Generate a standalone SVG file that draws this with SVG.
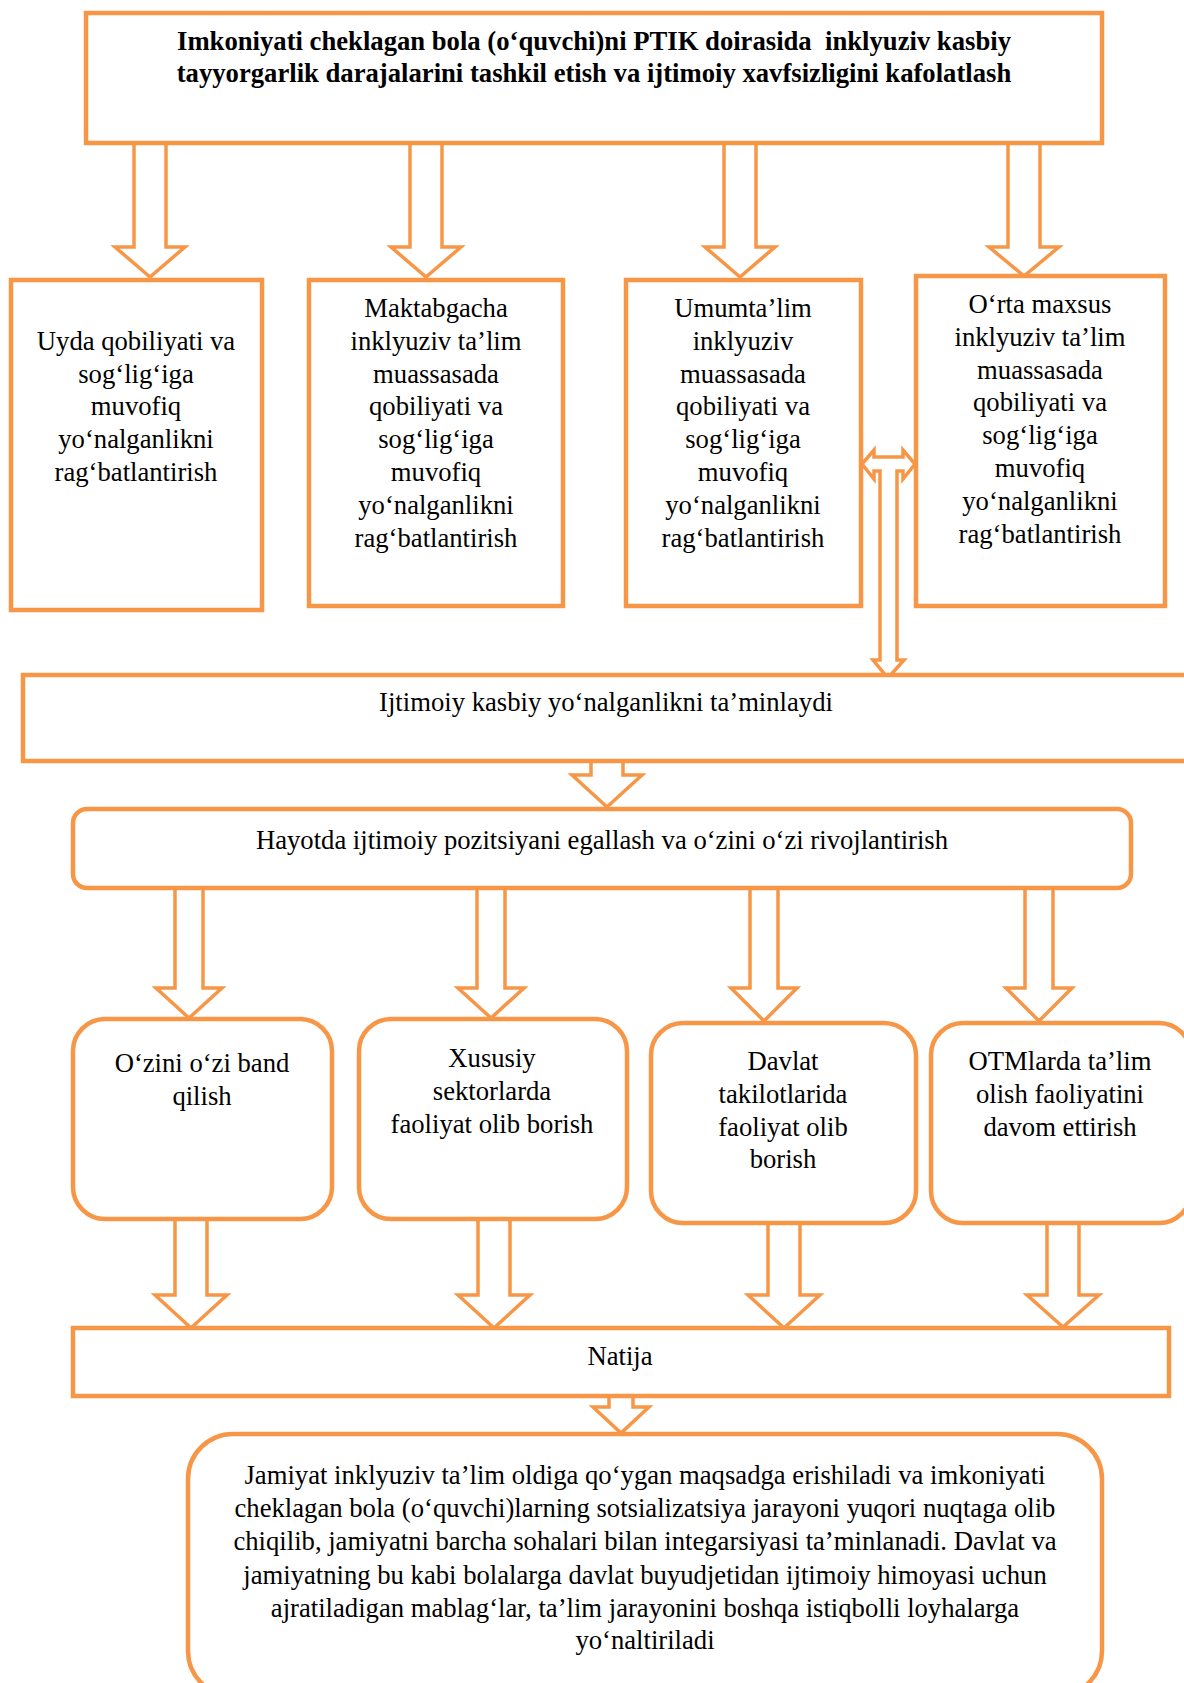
<svg xmlns="http://www.w3.org/2000/svg" width="1184" height="1683" viewBox="0 0 1184 1683">
<style>
.box{fill:#fff;stroke:#F79646;stroke-width:4.5}
.arr{fill:#fff;stroke:#F79646;stroke-width:3.5;stroke-linejoin:miter}
text{font-family:"Liberation Serif","Times New Roman",serif;font-size:26.67px;fill:#000;text-anchor:middle}
.b{font-weight:bold;font-size:26.67px}
</style>
<rect width="1184" height="1683" fill="#fff"/>
<g id="connectors">
<polygon class="arr" points="134,143 166,143 166,247 185,247 150,277 115,247 134,247"/>
<polygon class="arr" points="410,143 442,143 442,247 461,247 426,277 391,247 410,247"/>
<polygon class="arr" points="724,143 756,143 756,247 775,247 740,277 705,247 724,247"/>
<polygon class="arr" points="1008,143 1040,143 1040,247 1059,247 1024,276 989,247 1008,247"/>
<polygon class="arr" points="862,464 874,450 874,457 903,457 903,450 915,464 903,479 903,471 897,471 897,660 904,660 888,678 873,660 880,660 880,471 874,471 874,479"/>
<polygon class="arr" points="591,760 623,760 623,775 642,775 607,807 572,775 591,775"/>
<polygon class="arr" points="175,888 203,888 203,988 222,988 189,1018 156,988 175,988"/>
<polygon class="arr" points="477,888 505,888 505,988 524,988 491,1018 458,988 477,988"/>
<polygon class="arr" points="750,888 778,888 778,988 797,988 764,1021 731,988 750,988"/>
<polygon class="arr" points="1025,888 1053,888 1053,988 1072,988 1039,1021 1006,988 1025,988"/>
<polygon class="arr" points="175,1219 207,1219 207,1295 227,1295 191,1328 155,1295 175,1295"/>
<polygon class="arr" points="478,1219 510,1219 510,1295 530,1295 494,1328 458,1295 478,1295"/>
<polygon class="arr" points="768,1223 800,1223 800,1295 820,1295 784,1328 748,1295 768,1295"/>
<polygon class="arr" points="1047,1218 1079,1218 1079,1295 1099,1295 1063,1327 1027,1295 1047,1295"/>
<polygon class="arr" points="609,1396 633,1396 633,1407 649,1407 621,1433 593,1407 609,1407"/>
</g>
<g id="title">
<rect class="box" x="86" y="13" width="1016" height="130"/>
<text class="b" x="594" y="50" xml:space="preserve">Imkoniyati cheklagan bola (o‘quvchi)ni PTIK doirasida  inklyuziv kasbiy</text>
<text class="b" x="594" y="82">tayyorgarlik darajalarini tashkil etish va ijtimoiy xavfsizligini kafolatlash</text>
</g>
<g id="n1">
<rect class="box" x="11" y="280" width="251" height="330"/>
<text x="136" y="350">Uyda qobiliyati va</text>
<text x="136" y="383">sog‘lig‘iga</text>
<text x="136" y="415">muvofiq</text>
<text x="136" y="448">yo‘nalganlikni</text>
<text x="136" y="481">rag‘batlantirish</text>
</g>
<g id="n2">
<rect class="box" x="309" y="280" width="254" height="326"/>
<text x="436" y="317">Maktabgacha</text>
<text x="436" y="350">inklyuziv ta’lim</text>
<text x="436" y="383">muassasada</text>
<text x="436" y="415">qobiliyati va</text>
<text x="436" y="448">sog‘lig‘iga</text>
<text x="436" y="481">muvofiq</text>
<text x="436" y="514">yo‘nalganlikni</text>
<text x="436" y="547">rag‘batlantirish</text>
</g>
<g id="n3">
<rect class="box" x="626" y="280" width="235" height="326"/>
<text x="743" y="317">Umumta’lim</text>
<text x="743" y="350">inklyuziv</text>
<text x="743" y="383">muassasada</text>
<text x="743" y="415">qobiliyati va</text>
<text x="743" y="448">sog‘lig‘iga</text>
<text x="743" y="481">muvofiq</text>
<text x="743" y="514">yo‘nalganlikni</text>
<text x="743" y="547">rag‘batlantirish</text>
</g>
<g id="n4">
<rect class="box" x="916" y="276" width="249" height="330"/>
<text x="1040" y="313">O‘rta maxsus</text>
<text x="1040" y="346">inklyuziv ta’lim</text>
<text x="1040" y="379">muassasada</text>
<text x="1040" y="411">qobiliyati va</text>
<text x="1040" y="444">sog‘lig‘iga</text>
<text x="1040" y="477">muvofiq</text>
<text x="1040" y="510">yo‘nalganlikni</text>
<text x="1040" y="543">rag‘batlantirish</text>
</g>
<g id="n5">
<rect class="box" x="23" y="675" width="1180" height="86"/>
<text x="606" y="711">Ijtimoiy kasbiy yo‘nalganlikni ta’minlaydi</text>
</g>
<g id="n6">
<rect class="box" x="73" y="809" width="1058" height="79" rx="14"/>
<text x="602" y="849">Hayotda ijtimoiy pozitsiyani egallash va o‘zini o‘zi rivojlantirish</text>
</g>
<g id="n7">
<rect class="box" x="73" y="1019" width="259" height="200" rx="32"/>
<text x="202" y="1072">O‘zini o‘zi band</text>
<text x="202" y="1105">qilish</text>
</g>
<g id="n8">
<rect class="box" x="359" y="1019" width="268" height="200" rx="32"/>
<text x="492" y="1067">Xususiy</text>
<text x="492" y="1100">sektorlarda</text>
<text x="492" y="1133">faoliyat olib borish</text>
</g>
<g id="n9">
<rect class="box" x="651" y="1023" width="265" height="200" rx="32"/>
<text x="783" y="1070">Davlat</text>
<text x="783" y="1103">takilotlarida</text>
<text x="783" y="1136">faoliyat olib</text>
<text x="783" y="1168">borish</text>
</g>
<g id="n10">
<rect class="box" x="931" y="1023" width="260" height="200" rx="32"/>
<text x="1060" y="1070">OTMlarda ta’lim</text>
<text x="1060" y="1103">olish faoliyatini</text>
<text x="1060" y="1136">davom ettirish</text>
</g>
<g id="n11">
<rect class="box" x="73" y="1328" width="1096" height="68"/>
<text x="620" y="1365">Natija</text>
</g>
<g id="n12">
<rect class="box" x="188" y="1434" width="914" height="262" rx="45"/>
<text x="645" y="1484">Jamiyat inklyuziv ta’lim oldiga qo‘ygan maqsadga erishiladi va imkoniyati</text>
<text x="645" y="1517">cheklagan bola (o‘quvchi)larning sotsializatsiya jarayoni yuqori nuqtaga olib</text>
<text x="645" y="1550">chiqilib, jamiyatni barcha sohalari bilan integarsiyasi ta’minlanadi. Davlat va</text>
<text x="645" y="1584">jamiyatning bu kabi bolalarga davlat buyudjetidan ijtimoiy himoyasi uchun</text>
<text x="645" y="1617">ajratiladigan mablag‘lar, ta’lim jarayonini boshqa istiqbolli loyhalarga</text>
<text x="645" y="1649">yo‘naltiriladi</text>
</g>
</svg>
